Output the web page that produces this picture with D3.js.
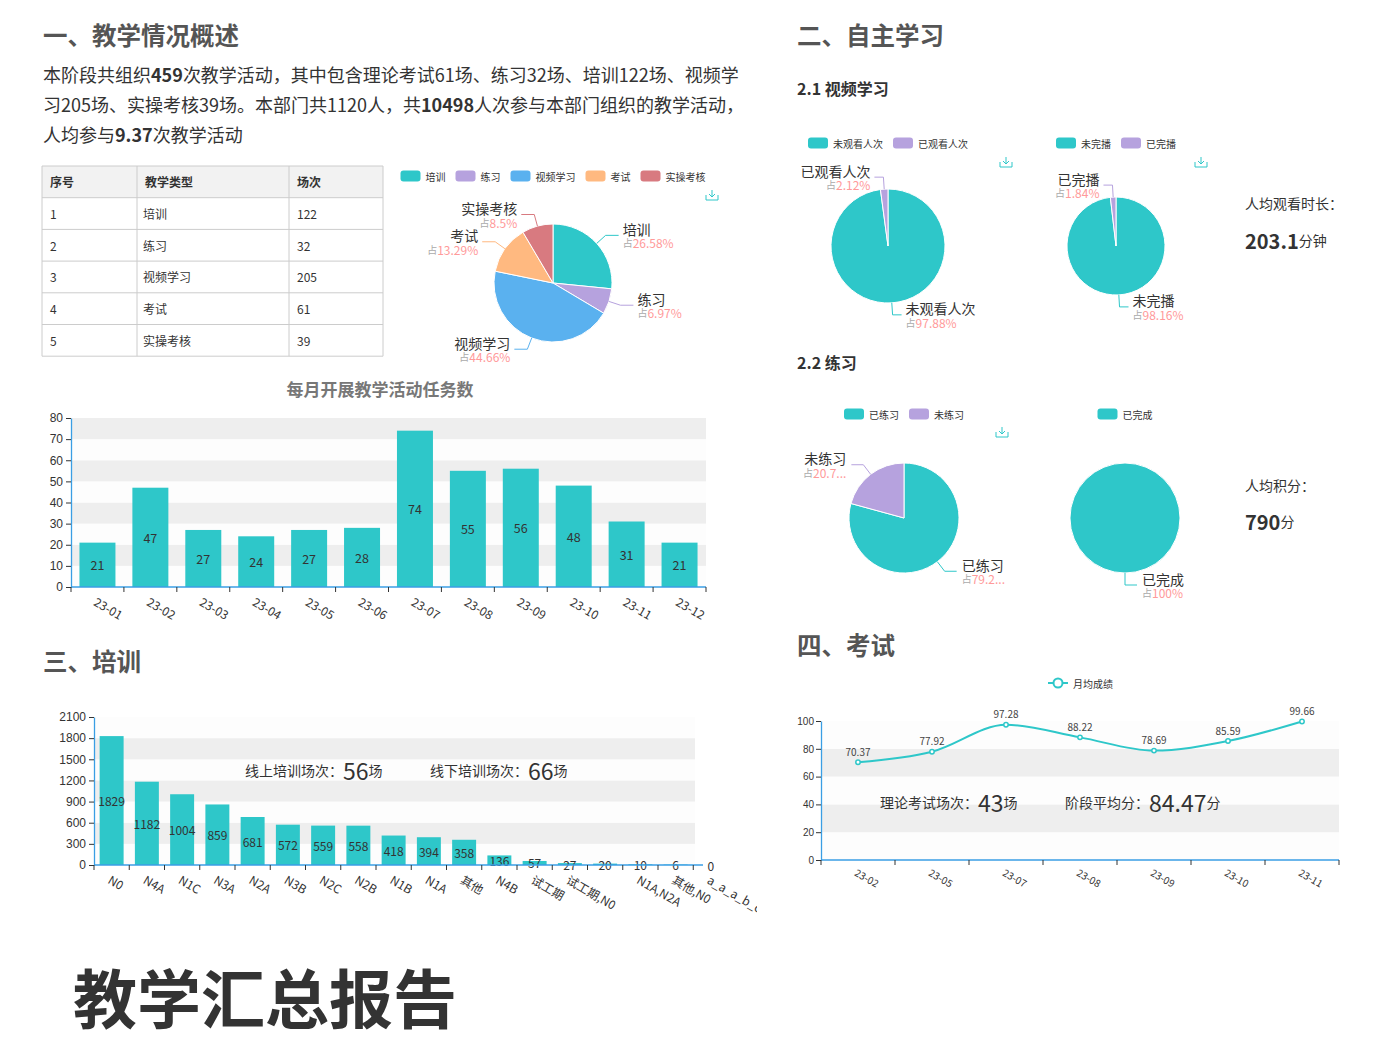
<!DOCTYPE html>
<html><head><meta charset="utf-8">
<script src="https://cdn.jsdelivr.net/npm/d3@7"></script>
<style>
body{margin:0;background:#fff;}
svg{display:block;font-family:"PingFang SC","Noto Sans CJK SC","Noto Sans",sans-serif;}
</style>
</head><body>
<svg id="c" width="1400" height="1051"></svg>
<script>
// ---------------- data ----------------
const activityTypes = ['培训','练习','视频学习','考试','实操考核'];
const activityCounts = [122,32,205,61,39];
const tableHeaders = ['序号','教学类型','场次'];

const months = ['23-01','23-02','23-03','23-04','23-05','23-06','23-07','23-08','23-09','23-10','23-11','23-12'];
const monthlyTasks = [21,47,27,24,27,28,74,55,56,48,31,21];

const trainingGroups = ['N0','N4A','N1C','N3A','N2A','N3B','N2C','N2B','N1B','N1A','其他','N4B','试工期','试工期,N0','','N1A,N2A','其他,N0','a_a_a_b_c'];
const trainingCounts = [1829,1182,1004,859,681,572,559,558,418,394,358,136,57,27,20,10,6,0];

const videoViewNames = ['未观看人次','已观看人次'];
const videoViewShares = [97.88,2.12];
const videoFinishNames = ['未完播','已完播'];
const videoFinishShares = [98.16,1.84];
const practiceNames = ['已练习','未练习'];
const practiceShares = [79.25,20.75];
const completeNames = ['已完成'];
const completeShares = [100];

const examMonths = ['23-02','23-05','23-07','23-08','23-09','23-10','23-11'];
const examScores = [70.37,77.92,97.28,88.22,78.69,85.59,99.66];

const palette = ['#2ec7c9','#b6a2de','#5ab1ef','#ffb980','#d87a80'];
const AXIS = '#3a9ee4', TXT = '#333', LIGHT = '#fdfdfd', DARK = '#eeeeee';

// ---------------- helpers ----------------
const svg = d3.select('#c');
function txt(g, x, y, s, size, opts={}) {
  return g.append('text').attr('x',x).attr('y',y).attr('dominant-baseline','central')
    .attr('font-size',size).attr('fill',opts.fill||TXT)
    .attr('font-weight',opts.bold?'bold':'normal')
    .attr('text-anchor',opts.anchor||'start').text(s);
}
function richLine(g, x, y, segs, size) {
  const t = g.append('text').attr('x',x).attr('y',y).attr('dominant-baseline','central')
    .attr('font-size',size).attr('fill',TXT);
  segs.forEach(s => t.append('tspan').attr('font-weight',s[1]?'bold':'normal').text(s[0]));
  return t;
}
function statLine(g, x, y, label, num, unit, numSize) {
  const t = g.append('text').attr('x',x).attr('y',y).attr('dominant-baseline','central').attr('fill',TXT);
  t.append('tspan').attr('font-size',14).text(label);
  t.append('tspan').attr('font-size',numSize).text(num);
  t.append('tspan').attr('font-size',14).text(unit);
}
function downloadIcon(x, y) {
  const g = svg.append('g').attr('transform',`translate(${x},${y})`).attr('fill','none')
    .attr('stroke','#2ec7c9').attr('stroke-width',1);
  g.append('path').attr('d','M0,-6V1M-3,-2L0,1L3,-2');
  g.append('path').attr('d','M-6,-1V4H6V-1');
}
function legend(cx, y, names, colors) {
  const widths = names.map(n => 20 + 5 + n.length*10);
  const total = d3.sum(widths) + 10*(names.length-1);
  let x = cx - total/2;
  const g = svg.append('g');
  names.forEach((n,i) => {
    g.append('rect').attr('x',x).attr('y',y-5.5).attr('width',20).attr('height',11).attr('rx',3).attr('fill',colors[i]);
    txt(g, x+25, y, n, 10, {fill:'#333'});
    x += widths[i] + 10;
  });
}
function fmtPct(p) { return String(+p.toFixed(2)); }

function pieChart(cfg) {
  const total = d3.sum(cfg.values);
  const arcs = d3.pie().sort(null).value(d=>d)(cfg.values);
  const arcGen = d3.arc().innerRadius(0).outerRadius(cfg.r);
  const g = svg.append('g').attr('transform',`translate(${cfg.cx},${cfg.cy})`);
  g.selectAll('path.s').data(arcs).join('path').attr('class','s')
    .attr('d',arcGen).attr('fill',(d,i)=>cfg.colors[i]).attr('stroke','#fff').attr('stroke-width',1);
  arcs.forEach((d,i) => {
    const a = (d.startAngle + d.endAngle)/2;
    const sx = Math.sin(a), cy = -Math.cos(a);
    const side = sx >= -1e-6 ? 1 : -1;
    const p1 = [cfg.r*sx, cfg.r*cy];
    const p2 = [(cfg.r+cfg.l1)*sx, (cfg.r+cfg.l1)*cy];
    const p3 = [p2[0] + side*cfg.l2, p2[1]];
    g.append('polyline').attr('points',[p1,p2,p3].map(p=>p.join(',')).join(' '))
      .attr('fill','none').attr('stroke',cfg.colors[i]).attr('stroke-width',1);
    const tx = p3[0] + side*cfg.gap, anchor = side>0?'start':'end';
    txt(g, tx, p3[1]-6.5, cfg.names[i], 14, {anchor, fill:'#333'});
    let pct = fmtPct(d.value/total*100) + '%';
    if (cfg.truncate) pct = pct.slice(0,4) + '...';
    const t = g.append('text').attr('x',tx).attr('y',p3[1]+7).attr('dominant-baseline','central').attr('text-anchor',anchor);
    t.append('tspan').attr('font-size',10).attr('fill','#aaa').text('占');
    t.append('tspan').attr('font-size',12).attr('fill','#ff9a9a').text(pct);
  });
  legend(cfg.cx, cfg.legendY, cfg.names, cfg.colors);
}

function barChart(cfg) {
  const g = svg.append('g');
  const x = d3.scaleBand().domain(d3.range(cfg.cats.length)).range([cfg.x0, cfg.x1]).padding(0);
  const y = d3.scaleLinear().domain([0,cfg.max]).range([cfg.y0, cfg.yTop]);
  const ticks = d3.range(0, cfg.max + cfg.step/2, cfg.step);
  for (let i=0;i<ticks.length-1;i++) {
    g.append('rect').attr('x',cfg.x0).attr('width',cfg.gridRight-cfg.x0)
      .attr('y',y(ticks[i+1])).attr('height',y(ticks[i])-y(ticks[i+1]))
      .attr('fill', i%2===0 ? LIGHT : DARK);
  }
  const bw = x.bandwidth()*0.68;
  g.selectAll('rect.bar').data(cfg.vals).join('rect').attr('class','bar')
    .attr('x',(d,i)=>x(i)+(x.bandwidth()-bw)/2).attr('width',bw)
    .attr('y',d=>y(d)).attr('height',d=>cfg.y0-y(d)).attr('fill','#2ec7c9');
  g.selectAll('text.val').data(cfg.vals).join('text').attr('class','val')
    .attr('x',(d,i)=>x(i)+x.bandwidth()/2).attr('y',d=>(y(d)+cfg.y0)/2)
    .attr('text-anchor','middle').attr('dominant-baseline','central')
    .attr('font-size',cfg.valueSize).attr('fill','#333').text(d=>d);
  // y axis
  const ya = g.append('g').attr('transform',`translate(${cfg.x0},0)`)
    .call(d3.axisLeft(y).tickValues(ticks).tickFormat(d3.format('d')).tickSize(5).tickSizeOuter(0).tickPadding(3));
  ya.select('.domain').attr('stroke',AXIS).attr('stroke-width',1.3);
  ya.selectAll('.tick line').attr('stroke','#333');
  ya.selectAll('.tick text').attr('fill','#333').attr('font-size',cfg.yFont).attr('font-family','inherit');
  // x axis
  g.append('line').attr('x1',cfg.x0).attr('x2',cfg.axisRight).attr('y1',cfg.y0).attr('y2',cfg.y0)
    .attr('stroke',AXIS).attr('stroke-width',1.3);
  d3.range(cfg.cats.length+1).map(i => x(i) !== undefined ? x(i) : cfg.x1)
    .filter(v => v <= cfg.axisRight + 0.5)
    .forEach(v => g.append('line').attr('x1',v).attr('x2',v).attr('y1',cfg.y0).attr('y2',cfg.y0+5).attr('stroke','#333'));
  const lg = g.append('g');
  if (cfg.clipRight) {
    svg.append('clipPath').attr('id','clip'+cfg.id).append('rect').attr('x',0).attr('y',0).attr('width',cfg.clipRight).attr('height',1051);
    lg.attr('clip-path',`url(#clip${cfg.id})`);
  }
  cfg.cats.forEach((c,i) => {
    lg.append('text').attr('transform',`translate(${x(i)+x.bandwidth()/2-2},${cfg.y0+13}) rotate(30)`)
      .attr('font-size',cfg.xFont).attr('fill','#333').attr('dominant-baseline','central').text(c);
  });
  return g;
}

// ---------------- section 一 ----------------
const s1 = svg.append('g');
txt(s1, 43, 34, '一、教学情况概述', 24.5, {bold:true, fill:'#555'});
richLine(s1, 43, 74, [['本阶段共组织',0],['459',1],['次教学活动，其中包含理论考试61场、练习32场、培训122场、视频学',0]], 18);
richLine(s1, 43, 104, [['习205场、实操考核39场。本部门共1120人，共',0],['10498',1],['人次参与本部门组织的教学活动，',0]], 18);
richLine(s1, 43, 134, [['人均参与',0],['9.37',1],['次教学活动',0]], 18);

// table
const colX = [42,137,289,383];
const rowY = d3.range(7).map(i => 166 + i*31.7);
const tb = svg.append('g');
tb.append('rect').attr('x',colX[0]).attr('y',rowY[0]).attr('width',colX[3]-colX[0]).attr('height',rowY[1]-rowY[0]).attr('fill','#f2f2f2');
rowY.forEach(yv => tb.append('line').attr('x1',colX[0]).attr('x2',colX[3]).attr('y1',yv).attr('y2',yv).attr('stroke','#ccc'));
colX.forEach(xv => tb.append('line').attr('x1',xv).attr('x2',xv).attr('y1',rowY[0]).attr('y2',rowY[6]).attr('stroke','#ccc'));
tableHeaders.forEach((h,j) => txt(tb, colX[j]+8, (rowY[0]+rowY[1])/2, h, 12, {bold:true}));
activityTypes.forEach((t,i) => {
  const cy = (rowY[i+1]+rowY[i+2])/2;
  txt(tb, colX[0]+8, cy, String(i+1), 12);
  txt(tb, colX[1]+6, cy, t, 12);
  txt(tb, colX[2]+8, cy, String(activityCounts[i]), 12);
});

// main pie
pieChart({cx:553, cy:283, r:59, names:activityTypes, values:activityCounts, colors:palette, l1:12, l2:13, gap:4, legendY:176});
downloadIcon(712, 196);

// monthly bar chart
txt(svg, 380, 388, '每月开展教学活动任务数', 17, {bold:true, fill:'#777', anchor:'middle'});
barChart({id:'m', cats:months, vals:monthlyTasks, x0:71, x1:706, gridRight:706, axisRight:706,
  y0:587, yTop:418, max:80, step:10, valueSize:12.5, yFont:12, xFont:12});

// ---------------- section 三 ----------------
txt(svg, 43, 660, '三、培训', 24.5, {bold:true, fill:'#555'});
barChart({id:'t', cats:trainingGroups, vals:trainingCounts, x0:94, x1:94+18*35.25, gridRight:695, axisRight:703,
  y0:865, yTop:717, max:2100, step:300, valueSize:12, yFont:12, xFont:12, clipRight:757});
statLine(svg, 245, 770, '线上培训场次：', '56', '场', 23);
statLine(svg, 430, 770, '线下培训场次：', '66', '场', 23);

// ---------------- section 二 ----------------
txt(svg, 797, 34, '二、自主学习', 24.5, {bold:true, fill:'#555'});
txt(svg, 797, 88, '2.1 视频学习', 16, {bold:true});
pieChart({cx:888, cy:246, r:57, names:videoViewNames, values:videoViewShares, colors:palette, l1:12, l2:9, gap:4, legendY:143});
downloadIcon(1006, 163);
pieChart({cx:1116, cy:246, r:49, names:videoFinishNames, values:videoFinishShares, colors:palette, l1:12, l2:9, gap:4, legendY:143});
downloadIcon(1201, 163);
txt(svg, 1245, 203, '人均观看时长：', 14);
{
  const t = svg.append('text').attr('x',1245).attr('y',240).attr('dominant-baseline','central').attr('fill',TXT);
  t.append('tspan').attr('font-size',20).attr('font-weight','bold').text('203.1');
  t.append('tspan').attr('font-size',14).text('分钟');
}

txt(svg, 797, 362, '2.2 练习', 16, {bold:true});
pieChart({cx:904, cy:518, r:55, names:practiceNames, values:practiceShares, colors:palette, l1:12, l2:12, gap:5, legendY:414, truncate:true});
downloadIcon(1002, 433);
pieChart({cx:1125, cy:518, r:55, names:completeNames, values:completeShares, colors:palette, l1:12, l2:12, gap:5, legendY:414});
txt(svg, 1245, 485, '人均积分：', 14);
{
  const t = svg.append('text').attr('x',1245).attr('y',521).attr('dominant-baseline','central').attr('fill',TXT);
  t.append('tspan').attr('font-size',20).attr('font-weight','bold').text('790');
  t.append('tspan').attr('font-size',14).text('分');
}

// ---------------- section 四 ----------------
txt(svg, 797, 644, '四、考试', 24.5, {bold:true, fill:'#555'});
{
  const g = svg.append('g');
  const x0 = 821, x1 = 1339, y0 = 860, yTop = 721;
  const x = d3.scaleBand().domain(examMonths).range([x0,x1]);
  const y = d3.scaleLinear().domain([0,100]).range([y0,yTop]);
  const ticks = d3.range(0,101,20);
  for (let i=0;i<ticks.length-1;i++) {
    g.append('rect').attr('x',x0).attr('width',x1-x0).attr('y',y(ticks[i+1])).attr('height',y(ticks[i])-y(ticks[i+1]))
      .attr('fill', i%2===0 ? LIGHT : DARK);
  }
  const ya = g.append('g').attr('transform',`translate(${x0},0)`)
    .call(d3.axisLeft(y).tickValues(ticks).tickSize(5).tickSizeOuter(0).tickPadding(2));
  ya.select('.domain').attr('stroke',AXIS).attr('stroke-width',1.3);
  ya.selectAll('.tick line').attr('stroke','#333');
  ya.selectAll('.tick text').attr('fill','#333').attr('font-size',10).attr('font-family','inherit');
  g.append('line').attr('x1',x0).attr('x2',x1).attr('y1',y0).attr('y2',y0).attr('stroke',AXIS).attr('stroke-width',1.3);
  examMonths.concat([null]).forEach((m,i) => {
    const v = m ? x(m) : x1;
    g.append('line').attr('x1',v).attr('x2',v).attr('y1',y0).attr('y2',y0+5).attr('stroke','#333');
  });
  examMonths.forEach(m => {
    g.append('text').attr('transform',`translate(${x(m)+x.bandwidth()/2-2},${y0+11}) rotate(30)`)
      .attr('font-size',10).attr('fill','#333').attr('dominant-baseline','central').text(m);
  });
  const cx = m => x(m) + x.bandwidth()/2;
  const line = d3.line().x((d,i)=>cx(examMonths[i])).y(d=>y(d)).curve(d3.curveMonotoneX);
  g.append('path').attr('d',line(examScores)).attr('fill','none').attr('stroke','#2ec7c9').attr('stroke-width',2);
  g.selectAll('circle.p').data(examScores).join('circle').attr('class','p')
    .attr('cx',(d,i)=>cx(examMonths[i])).attr('cy',d=>y(d)).attr('r',2.2)
    .attr('fill','#fff').attr('stroke','#2ec7c9').attr('stroke-width',1.5);
  g.selectAll('text.v').data(examScores).join('text').attr('class','v')
    .attr('x',(d,i)=>cx(examMonths[i])).attr('y',d=>y(d)-11).attr('text-anchor','middle')
    .attr('dominant-baseline','central').attr('font-size',10).attr('fill','#444').text(d=>d.toFixed(2));
  // legend
  const lx = 1048, ly = 683;
  g.append('line').attr('x1',lx).attr('x2',lx+20).attr('y1',ly).attr('y2',ly).attr('stroke','#2ec7c9').attr('stroke-width',2);
  g.append('circle').attr('cx',lx+10).attr('cy',ly).attr('r',4.5).attr('fill','#fff').attr('stroke','#2ec7c9').attr('stroke-width',2);
  txt(g, lx+25, ly, '月均成绩', 10);
  statLine(svg, 880, 802, '理论考试场次：', '43', '场', 23);
  statLine(svg, 1065, 802, '阶段平均分：', '84.47', '分', 23);
}

// ---------------- report title ----------------
txt(svg, 73, 995, '教学汇总报告', 64, {bold:true, fill:'#333'});
</script>
</body></html>
